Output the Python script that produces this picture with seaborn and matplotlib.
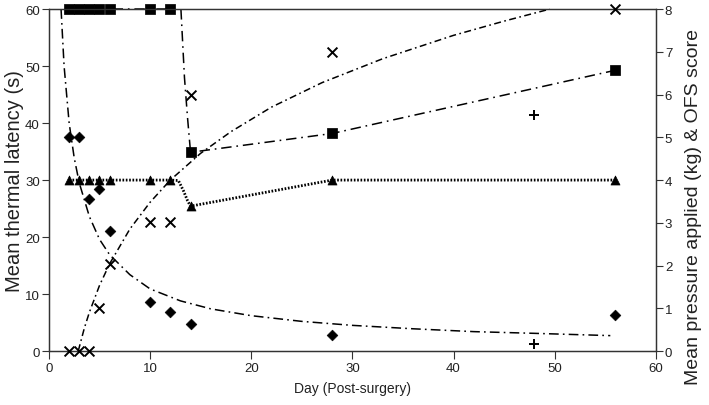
import matplotlib
matplotlib.use('Agg')
import matplotlib.pyplot as plt
import seaborn as sns
import pandas as pd

# marker data (left axis: thermal latency, s)
diamond_day = [2, 3, 4, 5, 6, 10, 12, 14, 28, 56]
diamond_val = [37.5, 37.5, 26.7, 28.4, 21.1, 8.6, 6.9, 4.7, 2.8, 6.4]
cross_day = [2, 3, 4, 5, 6, 10, 12, 14, 28, 56]
cross_val = [0, 0, 0, 7.6, 15.3, 22.6, 22.6, 45.0, 52.4, 60]
plus_day = [48, 48]
plus_val = [41.5, 1.3]

# marker data (right axis: pressure kg & OFS score)
square_day = [2, 3, 4, 5, 6, 10, 12, 14, 28, 56]
square_val = [8, 8, 8, 8, 8, 8, 8, 4.65, 5.09, 6.57]
tri_day = [2, 3, 4, 5, 6, 10, 12, 14, 28, 56]
tri_val = [4, 4, 4, 4, 4, 4, 4, 3.39, 4, 4]

# trend lines
decay_day = [1.2, 1.5, 2, 2.5, 3, 4, 5, 6, 8, 10, 13, 16, 20, 25, 30, 36, 42, 48, 55.5]
decay_val = [60, 50.0, 40.0, 33.9, 29.5, 23.6, 19.6, 16.9, 13.4, 10.9, 8.8, 7.4, 6.2, 5.2, 4.5, 3.9, 3.4, 3.1, 2.7]
rise_day = [2.9, 3.5, 4, 5, 6, 8, 10, 12, 15, 18, 22, 27, 33, 40, 45, 49.5]
rise_val = [0, 4.0, 6.8, 11.5, 15.3, 21.4, 26.1, 30.0, 34.7, 38.5, 42.8, 47.1, 51.3, 55.4, 57.9, 60]
sq_line_top_day = [2, 3, 4, 5, 6, 10, 12]
sq_line_top_val = [8, 8, 8, 8, 8, 8, 8]
sq_line_day = [13.05, 13.4, 13.7, 14, 28, 56]
sq_line_val = [8, 6.4, 5.47, 4.65, 5.09, 6.57]
tri_line_day = [2, 3, 4, 5, 6, 10, 12, 12.8, 13.3, 13.7, 14, 28, 56]
tri_line_val = [4, 4, 4, 4, 4, 4, 4, 3.99, 3.75, 3.52, 3.39, 4, 4]

sns.set_theme(style='ticks')
plt.rcParams['font.family'] = ['Liberation Sans', 'DejaVu Sans']
plt.rcParams['lines.scale_dashes'] = False

fig = plt.figure(figsize=(7.09, 4.06), dpi=100)
ax = fig.add_axes([0.069, 0.133, 0.856, 0.842])
ax2 = ax.twinx()
ax.set_zorder(1)
ax.patch.set_visible(False)

def line(axis, x, y, ls, lw=1.1):
    sns.lineplot(x=x, y=y, ax=axis, color='black', linestyle=ls, linewidth=lw,
                 sort=False, estimator=None, clip_on=False)

line(ax, decay_day, decay_val, (0, (7, 3, 1.2, 3)))
line(ax, rise_day, rise_val, (0, (5, 2.5, 1.2, 2.5)))
line(ax2, sq_line_top_day, sq_line_top_val, (0, (7.5, 3.5, 1.2, 3.5)))
line(ax2, sq_line_day, sq_line_val, (0, (7.5, 3.5, 1.2, 3.5)))
line(ax2, tri_line_day, tri_line_val, (0, (1.2, 1.2)), lw=2.0)

sns.scatterplot(x=diamond_day, y=diamond_val, ax=ax, marker='D', s=30, color='black',
                edgecolor='black', clip_on=False, zorder=5)
sns.scatterplot(x=cross_day, y=cross_val, ax=ax, marker='x', s=50, color='black',
                linewidth=1.4, clip_on=False, zorder=5)
sns.scatterplot(x=plus_day, y=plus_val, ax=ax, marker='+', s=55, color='black',
                linewidth=1.4, clip_on=False, zorder=5)
sns.scatterplot(x=square_day, y=square_val, ax=ax2, marker='s', s=42, color='black',
                edgecolor='black', clip_on=False, zorder=5)
sns.scatterplot(x=tri_day, y=tri_val, ax=ax2, marker='^', s=42, color='black',
                edgecolor='black', clip_on=False, zorder=5)

ax.set_xlim(0, 60)
ax.set_ylim(0, 60)
ax2.set_ylim(0, 8)
ax.set_xticks(range(0, 61, 10))
ax.set_yticks(range(0, 61, 10))
ax2.set_yticks(range(0, 9))

for a in (ax, ax2):
    for s in a.spines.values():
        s.set_color('#333333')
        s.set_linewidth(0.9)
    a.tick_params(direction='out', length=5, width=0.8, color='#333333',
                  labelsize=9.5, pad=1.5, labelcolor='#222222')
ax.tick_params(axis='x', length=6, pad=2)

ax.set_xlabel('Day (Post-surgery)', fontsize=10, color='#222222', labelpad=5)
ax.set_ylabel('Mean thermal latency (s)', fontsize=14.5, color='#222222', labelpad=1)
ax2.set_ylabel('Mean pressure applied (kg) & OFS score', fontsize=14, color='#222222', labelpad=9)
ax2.yaxis.label.set_y(0.424)

plt.savefig('out.png', dpi=100)
